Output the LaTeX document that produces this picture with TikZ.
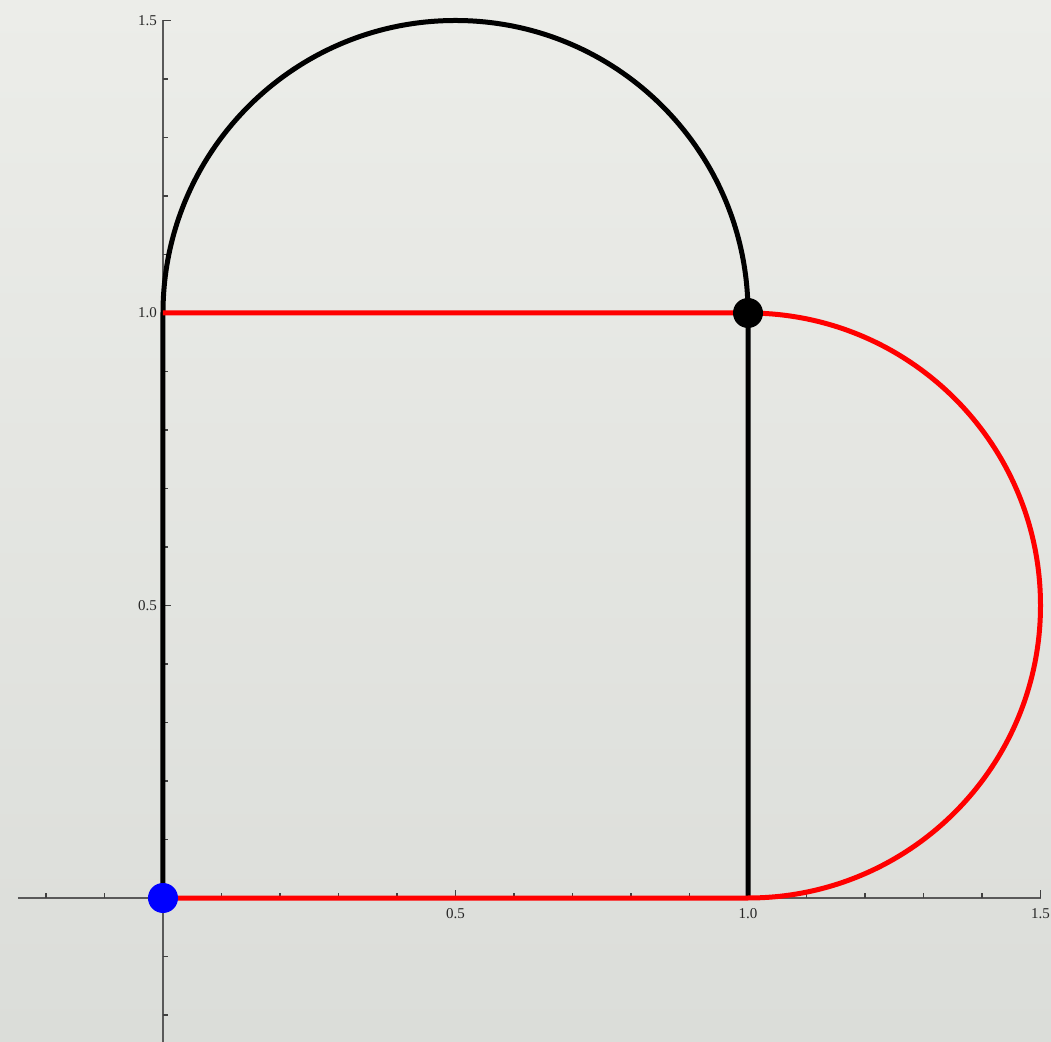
\documentclass[tikz,border=0pt]{standalone}
\usepackage{fontspec}
\setmainfont{Liberation Serif}
\begin{document}
\begin{tikzpicture}[x=585pt,y=585pt,
  axisline/.style={draw=black!65,line width=1.2pt},
  tickline/.style={draw=black!75,line width=1.1pt},
  blackcurve/.style={draw=black,line width=5pt},
  redcurve/.style={draw=red,line width=5pt},
  ticklabel/.style={font=\fontsize{15}{15}\selectfont,text=black!85,inner sep=0pt}]
\shade[top color={rgb,255:red,236;green,237;blue,233},bottom color={rgb,255:red,219;green,221;blue,217}]
  (-0.27863,-0.24444) rectangle (1.51795,1.53504);
\useasboundingbox (-0.27863,-0.24444) rectangle (1.51795,1.53504);
% axes
\coordinate (xl) at (-0.248,0);
\coordinate (xr) at (1.5,0);
\coordinate (yb) at (0,-0.25);
\coordinate (yt) at (0,1.5);
\draw[axisline] (xl) -- (xr);
\draw[axisline] (yb) -- (yt);
\foreach \i in {-2,...,15}{
  \pgfmathsetmacro{\v}{\i/10}
  \pgfmathsetmacro{\L}{ifthenelse(mod(\i,5)==0,8,5)}
  \draw[tickline] (\v,0) -- ++(0,\L pt);
  \draw[tickline] (0,\v) -- ++(\L pt,0);
}
\foreach \v in {0.5,1.0,1.5}{
  \node[ticklabel,anchor=north] (xlab\v) at (\v,-10pt) {\v};
  \node[ticklabel,anchor=east] (ylab\v) at (-6pt,\v) {\v};
}
% black path
\coordinate (o) at (0,0);
\coordinate (a) at (0,1);
\coordinate (b) at (1,1);
\coordinate (c) at (1,0);
\draw[blackcurve] (o) -- (a) arc[start angle=180,end angle=0,radius=0.5] -- (c);
% red path
\draw[redcurve] (a) -- (b) arc[start angle=90,end angle=-90,radius=0.5] -- (o);
% dots
\fill[blue] (o) circle[radius=15pt];
\fill[black] (b) circle[radius=15pt];
\end{tikzpicture}
\end{document}
